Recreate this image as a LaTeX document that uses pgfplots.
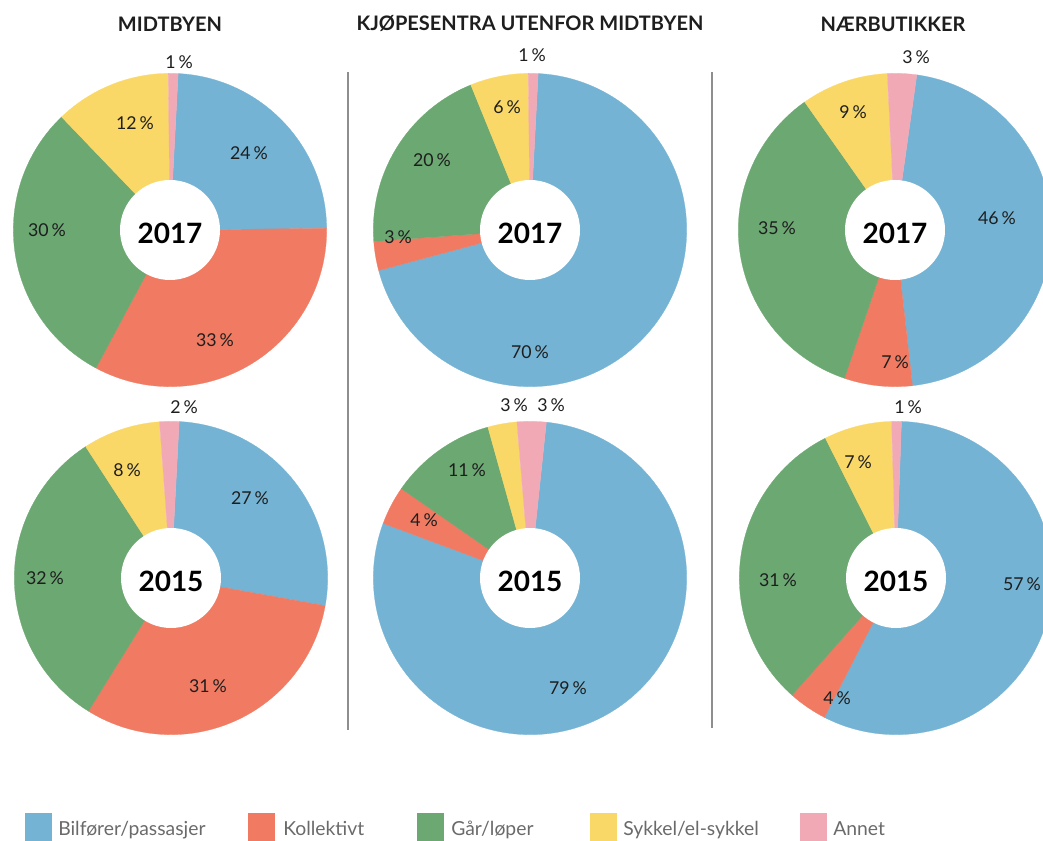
\documentclass[border=0pt]{standalone}
\usepackage{pgfplots}
\pgfplotsset{compat=1.18}
\usepackage{fontspec}
\setmainfont{Lato}
\definecolor{cBlue}{HTML}{74B3D4}
\definecolor{cRed}{HTML}{F07B62}
\definecolor{cGreen}{HTML}{6CA872}
\definecolor{cYellow}{HTML}{FAD868}
\definecolor{cPink}{HTML}{F2A9B6}
\definecolor{txt}{HTML}{1E1E1E}
\definecolor{legtxt}{HTML}{6A6A6A}
\definecolor{sep}{HTML}{8E8E8E}

% radius of the pies (px) and px -> pt factor 0.75
\newcommand{\R}{117.5pt}
\newcommand{\Rin}{37.5pt}

% slice: cx cy startangle endangle colour (angles clockwise from top)
\newcommand{\slice}[5]{%
  \fill[#5, draw=#5, line width=0.2pt] (axis cs:#1,#2) -- ++({90-#3}:\R)
    arc[start angle={90-#3}, end angle={90-#4}, radius=\R] -- cycle;}

% donut: cx cy offset v1 v2 v3 v4 v5 year
\newcommand{\donut}[9]{%
  \pgfmathsetmacro{\aA}{#3}%
  \pgfmathsetmacro{\aB}{\aA+3.6*#4}%
  \pgfmathsetmacro{\aC}{\aB+3.6*#5}%
  \pgfmathsetmacro{\aD}{\aC+3.6*#6}%
  \pgfmathsetmacro{\aE}{\aD+3.6*#7}%
  \pgfmathsetmacro{\aF}{\aE+3.6*#8}%
  \slice{#1}{#2}{\aA}{\aB}{cBlue}%
  \slice{#1}{#2}{\aB}{\aC}{cRed}%
  \slice{#1}{#2}{\aC}{\aD}{cGreen}%
  \slice{#1}{#2}{\aD}{\aE}{cYellow}%
  \slice{#1}{#2}{\aE}{\aF}{cPink}%
  \fill[white] (axis cs:#1,#2) circle[radius=\Rin];
  \node[font=\fontsize{21}{21}\selectfont\bfseries, text=black] at (axis cs:#1,#2+3) {#9};%
}

\newcommand{\lab}[3]{\node[font=\fontsize{13.3}{14}\selectfont, text=txt] at (axis cs:#1,#2) {#3\,\%};}
\newcommand{\legtext}[2]{\node[anchor=base west, font=\fontsize{14.5}{15}\selectfont, text=legtxt, inner sep=0pt] at (axis cs:#1,835) {#2};}

\begin{document}
\begin{tikzpicture}
\begin{axis}[name=ax, x=0.75pt, y=0.75pt, xmin=0, xmax=1043, ymin=0, ymax=841,
  y dir=reverse, hide axis, scale only axis, clip=true]

\pgfplotsextra{%
  % MIDTBYEN
  \donut{170}{230}{3}{24}{33}{30}{12}{1}{2017}
  \donut{171}{578}{3}{27}{31}{32}{8}{2}{2015}
  % KJOPESENTRA
  \donut{530}{230}{3}{70}{3}{20}{6}{1}{2017}
  \donut{530}{578}{6}{79}{4}{11}{3}{3}{2015}
  % NAERBUTIKKER
  \donut{895}{230}{8}{46}{7}{35}{9}{3}{2017}
  \donut{896}{578}{2}{57}{4}{31}{7}{1}{2015}
  % separators
  \draw[sep, line width=0.9pt] (axis cs:348,72) -- (axis cs:348,730);
  \draw[sep, line width=0.9pt] (axis cs:712,72) -- (axis cs:712,728);
  % titles
  \node[font=\fontsize{15}{16}\selectfont\bfseries, text=txt] at (axis cs:170,24) {MIDTBYEN};
  \node[font=\fontsize{15}{16}\selectfont\bfseries, text=txt] at (axis cs:530,24) {KJØPESENTRA UTENFOR MIDTBYEN};
  \node[font=\fontsize{15}{16}\selectfont\bfseries, text=txt] at (axis cs:893,24) {NÆRBUTIKKER};
  % labels left
  \lab{179}{62}{1}\lab{135}{123}{12}\lab{249}{153}{24}\lab{47}{230}{30}\lab{215}{340}{33}
  \lab{184}{407}{2}\lab{127}{470}{8}\lab{250}{498}{27}\lab{45}{578}{32}\lab{208}{686}{31}
  % labels middle
  \lab{532}{55}{1}\lab{507}{107}{6}\lab{432}{160}{20}\lab{398}{237}{3}\lab{530}{352}{70}
  \lab{514}{405}{3}\lab{551}{405}{3}\lab{467}{470}{11}\lab{424}{520}{4}\lab{568}{688}{79}
  % labels right
  \lab{916}{57}{3}\lab{853}{112}{9}\lab{777}{228}{35}\lab{997}{218}{46}\lab{895}{362}{7}
  \lab{908}{407}{1}\lab{858}{462}{7}\lab{778}{580}{31}\lab{1022}{584}{57}\lab{837}{698}{4}
  % legend
  \fill[cBlue]   (axis cs:25,813)  rectangle (axis cs:52,845);
  \fill[cRed]    (axis cs:248,813) rectangle (axis cs:275,845);
  \fill[cGreen]  (axis cs:417,813) rectangle (axis cs:444,845);
  \fill[cYellow] (axis cs:590,813) rectangle (axis cs:617,845);
  \fill[cPink]   (axis cs:800,813) rectangle (axis cs:827,845);
  \legtext{58}{Bilfører/passasjer}
  \legtext{283}{Kollektivt}
  \legtext{451}{Går/løper}
  \legtext{623}{Sykkel/el-sykkel}
  \legtext{833}{Annet}
}
\end{axis}
\pgfresetboundingbox
\useasboundingbox (ax.south west) rectangle (ax.north east);
\end{tikzpicture}
\end{document}
